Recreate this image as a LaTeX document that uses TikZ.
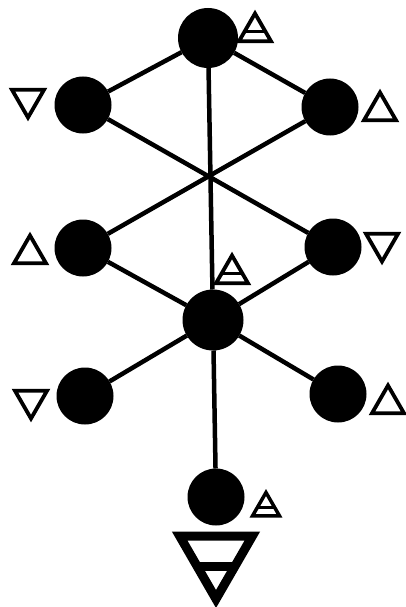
\documentclass[tikz,border=0pt]{standalone}
\usetikzlibrary{shapes.geometric,calc}

\begin{document}
\begin{tikzpicture}[x=1pt,y=-1pt,
  sephira/.style={circle,fill=black,inner sep=0pt,outer sep=0pt,minimum size=57pt},
  path/.style={line width=4.5pt},
  fire/.style={regular polygon,regular polygon sides=3,draw,line width=3.8pt,inner sep=0pt,minimum size=37pt},
  water/.style={fire,shape border rotate=180},
  air/.style={fire,path picture={
    \coordinate (barpt) at ($(path picture bounding box.south)!0.36!(path picture bounding box.north)$);
    \draw[line width=3.5pt] (path picture bounding box.west |- barpt) -- (path picture bounding box.east |- barpt);}},
  earth/.style={water,line width=9pt,minimum size=84pt,path picture={
    \coordinate (barpt) at ($(path picture bounding box.north)!0.48!(path picture bounding box.south)$);
    \draw[line width=9pt] (path picture bounding box.west |- barpt) -- (path picture bounding box.east |- barpt);}}]
\useasboundingbox[fill=white] (0,0) rectangle (406,607);

\node[sephira,minimum size=60pt] (top) at (208,38) {};
\node[sephira] (upleft) at (83,105) {};
\node[sephira] (upright) at (330,107) {};
\node[sephira] (midleft) at (83,248) {};
\node[sephira] (midright) at (333,247) {};
\node[sephira,minimum size=61pt] (centre) at (213,320) {};
\node[sephira] (lowleft) at (85,396) {};
\node[sephira] (lowright) at (338,394) {};
\node[sephira] (foot) at (216,497) {};

\draw[path] (top) -- (upleft) (top) -- (upright);
\draw[path] (upleft) -- (midright) (upright) -- (midleft);
\draw[path] (midleft) -- (centre) -- (midright);
\draw[path] (lowleft) -- (centre) -- (lowright);
\draw[path] (top) -- (centre) -- (foot);

% element signs
\node[air] (s-top) at (255,32) {};
\node[water] (s-upleft) at (28,99) {};
\node[fire] (s-upright) at (380,111) {};
\node[fire] (s-midleft) at (30,254) {};
\node[water] (s-midright) at (382,243) {};
\node[air] (s-centre) at (232,274) {};
\node[water] (s-lowleft) at (31,400) {};
\node[fire] (s-lowright) at (388,404) {};
\node[air,minimum size=31pt,line width=3.5pt] (s-foot) at (266,508) {};
\node[earth] (s-earth) at (216,557) {};
\end{tikzpicture}
\end{document}
